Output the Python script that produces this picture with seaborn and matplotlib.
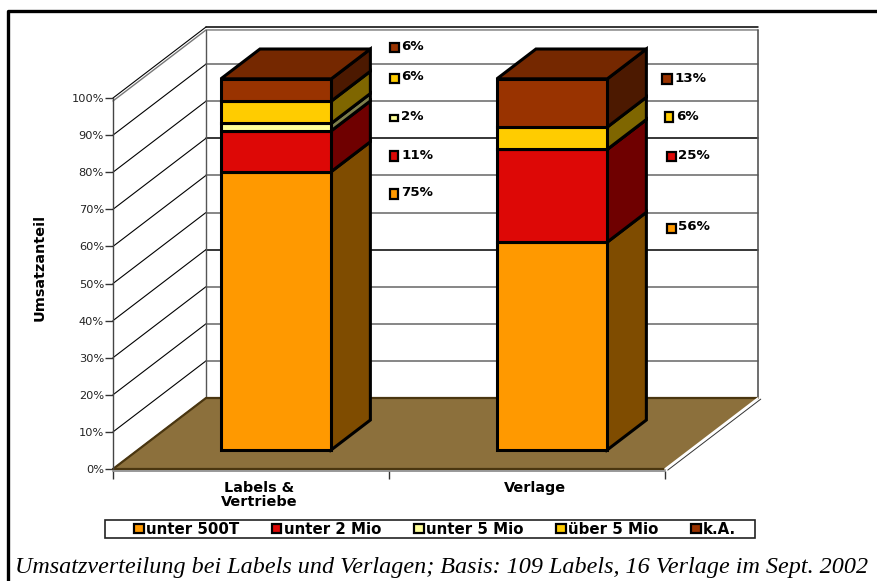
import seaborn as sns
import matplotlib.pyplot as plt
from matplotlib.lines import Line2D
from matplotlib.patches import Patch, Polygon, Rectangle

categories = ['Labels &\nVertriebe', 'Verlage']
series_names = ['unter 500T', 'unter 2 Mio', 'unter 5 Mio', 'über 5 Mio', 'k.A.']
labels_values = [75, 11, 2, 6, 6]
verlage_values = [56, 25, 0, 6, 13]
y_ticks = [0, 10, 20, 30, 40, 50, 60, 70, 80, 90, 100]

front_colors = ['#FF9900', '#DD0806', '#FFFF99', '#FFCC00', '#993300']
side_colors = ['#7F4C00', '#6F0000', '#7F7F4C', '#7F6600', '#4C1900']
top_color = '#752800'
floor_color = '#8C703C'

W, H = 878, 581
# front plane of the chart in pixels
LEFT, RIGHT, BOTTOM, TOP = 113, 665, 469, 98
# depth of the chart in data units (93 px right, 71 px up)
DX = 93 / ((RIGHT - LEFT) / 2)
DY = 71 / ((BOTTOM - TOP) / 100)
# bars sit between these two depths
T_FRONT, T_BACK = 0.27, 0.69
SX = (T_BACK - T_FRONT) * DX
SY = (T_BACK - T_FRONT) * DY

# marker x, marker y (centre), marker w, marker h, text x
label_spots = [
    [(390, 194, 8, 10, 401), (390, 156, 8, 10, 401), (390, 118, 8, 6, 401), (390, 78, 9, 9, 401), (390, 47, 9, 9, 401)],
    [(667, 228, 9, 9, 678), (667, 156, 9, 9, 678), None, (665, 117, 8, 10, 676), (662, 79, 10, 10, 674)],
]


def px(x, y):
    return x / W, 1 - y / H


sns.set_style('white')
plt.rcParams['font.family'] = ['DejaVu Sans']
plt.rcParams['text.color'] = 'black'

fig = plt.figure(figsize=(W / 100, H / 100), dpi=100)
ax = fig.add_axes([LEFT / W, 1 - BOTTOM / H, (RIGHT - LEFT) / W, (BOTTOM - TOP) / H])
ax.patch.set_alpha(0)

# stacked bars, then slide them back onto the floor
bottoms = [0, 0]
new_bars = []
for i, name in enumerate(series_names):
    vals = [labels_values[i], verlage_values[i]]
    n_before = len(ax.patches)
    sns.barplot(x=categories, y=vals, bottom=bottoms, color=front_colors[i], saturation=1, width=0.4,
                edgecolor='black', linewidth=2.2, ax=ax, zorder=6, legend=False)
    new_bars = list(ax.patches[n_before:])
    for bar in new_bars:
        bar.set_x(bar.get_x() + T_FRONT * DX)
        bar.set_y(bar.get_y() + T_FRONT * DY)
        bar.set_clip_on(False)
        # side face
        x1 = bar.get_x() + bar.get_width()
        y0, y1 = bar.get_y(), bar.get_y() + bar.get_height()
        ax.add_patch(Polygon([(x1, y0), (x1 + SX, y0 + SY), (x1 + SX, y1 + SY), (x1, y1)], closed=True,
                             facecolor=side_colors[i], edgecolor='black', lw=2.2, zorder=5, clip_on=False))
    bottoms = [b + v for b, v in zip(bottoms, vals)]

# top faces
for bar in new_bars:
    x0, x1 = bar.get_x(), bar.get_x() + bar.get_width()
    y1 = bar.get_y() + bar.get_height()
    ax.add_patch(Polygon([(x0, y1), (x1, y1), (x1 + SX, y1 + SY), (x0 + SX, y1 + SY)], closed=True,
                         facecolor=top_color, edgecolor='black', lw=2.2, zorder=5, clip_on=False))

ax.set_xlim(-0.5, 1.5)
ax.set_ylim(0, 100)

# walls and floor
ax.add_patch(Polygon([(-0.5, 0), (-0.5 + DX, DY), (1.5 + DX, DY), (1.5, 0)], closed=True, facecolor=floor_color,
                     edgecolor='none', zorder=2, clip_on=False))
ax.plot([-0.5, -0.5 + DX, 1.5 + DX], [0, DY, DY], color='#4A3610', lw=1.6, zorder=2.5, clip_on=False)
ax.plot([-0.5, 1.5], [0, 0], color='#4A3610', lw=1.6, zorder=2.5, clip_on=False)
ax.plot([1.5, 1.5 + DX], [0, DY], color='white', lw=1.2, zorder=2.5, clip_on=False)
ax.plot([1.5 + 0.01, 1.5 + DX + 0.01], [-0.3, DY - 0.3], color='#333333', lw=0.7, zorder=2.5, clip_on=False)
for i, v in enumerate(y_ticks):
    wall_color = 'black' if v in (40, 70, 100) else '#666666'
    ax.plot([-0.5, -0.5 + DX], [v, v + DY], color='black', lw=0.8, zorder=1, clip_on=False)
    if v > 0:
        ax.plot([-0.5 + DX, 1.5 + DX], [v + DY, v + DY], color=wall_color, lw=1.1, zorder=1, clip_on=False)
# second edge under the top of the walls
ax.plot([-0.5, -0.5 + DX, 1.5 + DX], [99.2, 99.2 + DY, 99.2 + DY], color='#777777', lw=1.0, zorder=1, clip_on=False)
ax.plot([-0.5 + DX, -0.5 + DX], [DY, 99.2 + DY], color='#555555', lw=1.0, zorder=1, clip_on=False)
ax.plot([1.5 + DX, 1.5 + DX], [DY, 99.2 + DY], color='#555555', lw=1.2, zorder=1, clip_on=False)

# axes
sns.despine(ax=ax, top=True, right=True)
ax.spines['left'].set_color('#444444')
ax.spines['left'].set_linewidth(1.0)
ax.spines['bottom'].set_color('#888888')
ax.spines['bottom'].set_linewidth(1.2)
ax.spines['bottom'].set_position(('outward', 1.5))
ax.set_yticks(y_ticks)
ax.set_yticklabels([f'{v}%' for v in y_ticks], fontsize=8.2, color='#222222')
ax.tick_params(axis='y', left=True, length=6, width=1.0, color='#333333', pad=0.5)
ax.set_xticks([-0.5, 0.5, 1.5])
ax.set_xticklabels(['', '', ''])
ax.tick_params(axis='x', which='major', bottom=True, length=6, width=1.0, color='#333333')
ax.set_xticks([0.03, 1.03], minor=True)
ax.set_xticklabels(categories, minor=True, fontsize=10.4, fontweight='bold', color='black', linespacing=1.05)
ax.tick_params(axis='x', which='minor', bottom=False, length=0, pad=7)
ax.set_ylabel('')
fig.text(*px(40, 267), 'Umsatzanteil', rotation=90, fontsize=10.4, fontweight='bold', ha='center', va='center')

# data labels, each with its little key
for values, spots in zip([labels_values, verlage_values], label_spots):
    for i, (v, spot) in enumerate(zip(values, spots)):
        if spot is None:
            continue
        mx, my, mw, mh, tx = spot
        fig.add_artist(Rectangle(px(mx, my + mh / 2), mw / W, mh / H, transform=fig.transFigure,
                                 facecolor=front_colors[i], edgecolor='black', lw=1.6, zorder=8))
        fig.text(*px(tx, my - 1), f'{v}%', fontsize=9.6, fontweight='bold', ha='left', va='center', zorder=8)

# legend
fig.add_artist(Rectangle(px(105, 538), 650 / W, 18 / H, transform=fig.transFigure, facecolor='white',
                         edgecolor='#222222', lw=1.2, zorder=7))
handles = [Patch(facecolor=c, edgecolor='black', lw=1.6) for c in front_colors]
leg = fig.legend(handles, series_names, ncol=5, loc='center', bbox_to_anchor=px(435, 529), frameon=False,
                 prop={'size': 10.8, 'weight': 'bold'}, handlelength=0.65, handleheight=0.55, handletextpad=0.15,
                 columnspacing=2.18, borderpad=0, borderaxespad=0)
leg.set_zorder(9)

# frame and caption
fig.add_artist(Line2D([8 / W, 8 / W, 1], [0, 1 - 11 / H, 1 - 11 / H], transform=fig.transFigure, color='black', lw=2.4))
fig.text(*px(15, 568), 'Umsatzverteilung bei Labels und Verlagen; Basis: 109 Labels, 16 Verlage im Sept. 2002',
         family='Liberation Serif', style='italic', fontsize=17.36, ha='left', va='center', color='black')

fig.savefig('out.png', dpi=100)
